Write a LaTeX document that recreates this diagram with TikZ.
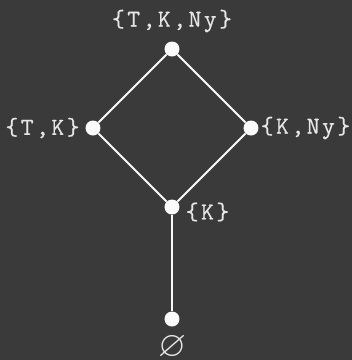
\documentclass[tikz,border=0pt]{standalone}
\usepackage{amssymb}
\usepackage{fontspec}
\newfontfamily\labelfont{lmmono10-regular.otf}[LetterSpace=10,FakeBold=0.4]
\definecolor{board}{HTML}{3A3A3A}
\definecolor{chalk}{HTML}{FAFAFA}
\definecolor{chalktext}{HTML}{E6E6E6}
\begin{document}
\begin{tikzpicture}[x=1pt,y=-1pt,
  dot/.style={circle,fill=chalk,inner sep=0pt,minimum size=15pt},
  lbl/.style={text=chalktext,inner sep=0pt,font=\labelfont\fontsize{24.5}{24.5}\selectfont},
  edge/.style={draw=chalk,line width=1.8pt}]
\fill[board] (0,0) rectangle (352,360);
\useasboundingbox (0,0) rectangle (352,360);
\node[dot] (tkn) at (172,49) {};
\node[dot] (tk) at (93,128) {};
\node[dot] (kn) at (251,128) {};
\node[dot] (k) at (172,207) {};
\node[dot] (e) at (172,319) {};
\draw[edge] (tkn) -- (tk);
\draw[edge] (tkn) -- (kn);
\draw[edge] (tk) -- (k);
\draw[edge] (kn) -- (k);
\draw[edge] (k) -- (e);
\node[lbl] (ltkn) at (172,21) {\{T,K,Ny\}};
\node[lbl] (ltk) at (42.5,128) {\{T,K\}};
\node[lbl] (lkn) at (305.5,128) {\{K,Ny\}};
\node[lbl] (lk) at (207.5,212) {\{K\}};
\node[text=chalktext,inner sep=0pt,font=\fontsize{36}{36}\selectfont] (le) at (172,347) {$\varnothing$};
\end{tikzpicture}
\end{document}
